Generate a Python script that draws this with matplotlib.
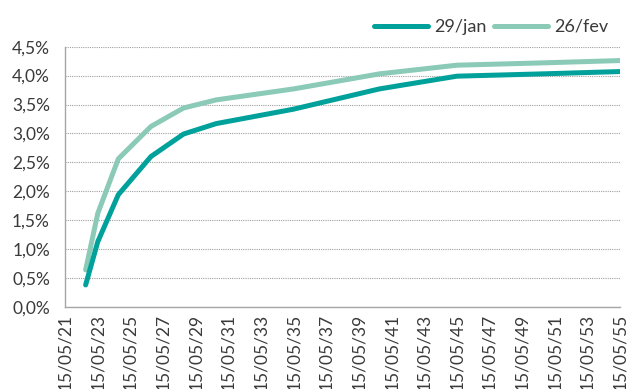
import matplotlib
matplotlib.use("Agg")
import matplotlib.pyplot as plt
import matplotlib.dates as mdates
from matplotlib.ticker import FuncFormatter, MultipleLocator
import numpy as np
from datetime import datetime

# vencimentos e taxas (%)
vencimentos = ["2022-08-15", "2023-05-15", "2024-08-15", "2026-08-15", "2028-08-15",
               "2030-08-15", "2035-05-15", "2040-08-15", "2045-05-15", "2050-08-15",
               "2055-05-15"]
taxa_jan = [0.38, 1.13, 1.94, 2.60, 2.99, 3.17, 3.42, 3.77, 3.99, 4.03, 4.07]
taxa_fev = [0.64, 1.62, 2.56, 3.12, 3.44, 3.58, 3.77, 4.03, 4.18, 4.22, 4.26]
series = ["29/jan", "26/fev"]

cor_jan = "#00a19b"
cor_fev = "#8acab7"
cinza = "#3a3a3a"

datas = [datetime.strptime(d, "%Y-%m-%d") for d in vencimentos]

plt.rcParams['font.family'] = ['Lato', 'DejaVu Sans']

fig = plt.figure(figsize=(6.27, 3.89), dpi=100)
ax = fig.add_axes([0.104, 0.211, 0.885, 0.669])

ax.plot(datas, taxa_jan, color=cor_jan, lw=3.6, solid_capstyle="round",
        solid_joinstyle="round", label=series[0], zorder=3)
ax.plot(datas, taxa_fev, color=cor_fev, lw=3.6, solid_capstyle="round",
        solid_joinstyle="round", label=series[1], zorder=2)

ax.set_ylim(0, 4.5)
ax.yaxis.set_major_locator(MultipleLocator(0.5))
ax.yaxis.set_major_formatter(FuncFormatter(lambda v, p: ("%.1f%%" % v).replace(".", ",")))

ax.set_xlim(datetime(2021, 5, 15), datetime(2055, 5, 15))
ticks = [datetime(a, 5, 15) for a in range(2021, 2056, 2)]
ax.set_xticks(ticks)
ax.xaxis.set_major_formatter(mdates.DateFormatter("%d/%m/%y"))
plt.setp(ax.get_xticklabels(), rotation=90)

ax.grid(axis="y", color="#a0a0a0", linestyle=(0, (1, 1)), lw=0.8)
ax.set_axisbelow(True)
for s in ["top", "right"]:
    ax.spines[s].set_visible(False)
for s in ["left", "bottom"]:
    ax.spines[s].set_color("#a6a6a6")
    ax.spines[s].set_linewidth(1.0)
ax.tick_params(axis="y", length=0, labelsize=12.5, colors=cinza, pad=11)
ax.tick_params(axis="x", length=0, labelsize=12.5, colors=cinza, pad=5)

leg = ax.legend(loc="lower right", bbox_to_anchor=(1.0, 1.0), ncol=2, frameon=False,
                fontsize=13, handlelength=3.0, columnspacing=0.4, handletextpad=0.35,
                borderaxespad=0.25)
for t in leg.get_texts():
    t.set_color(cinza)

fig.savefig("out.png", dpi=100)
